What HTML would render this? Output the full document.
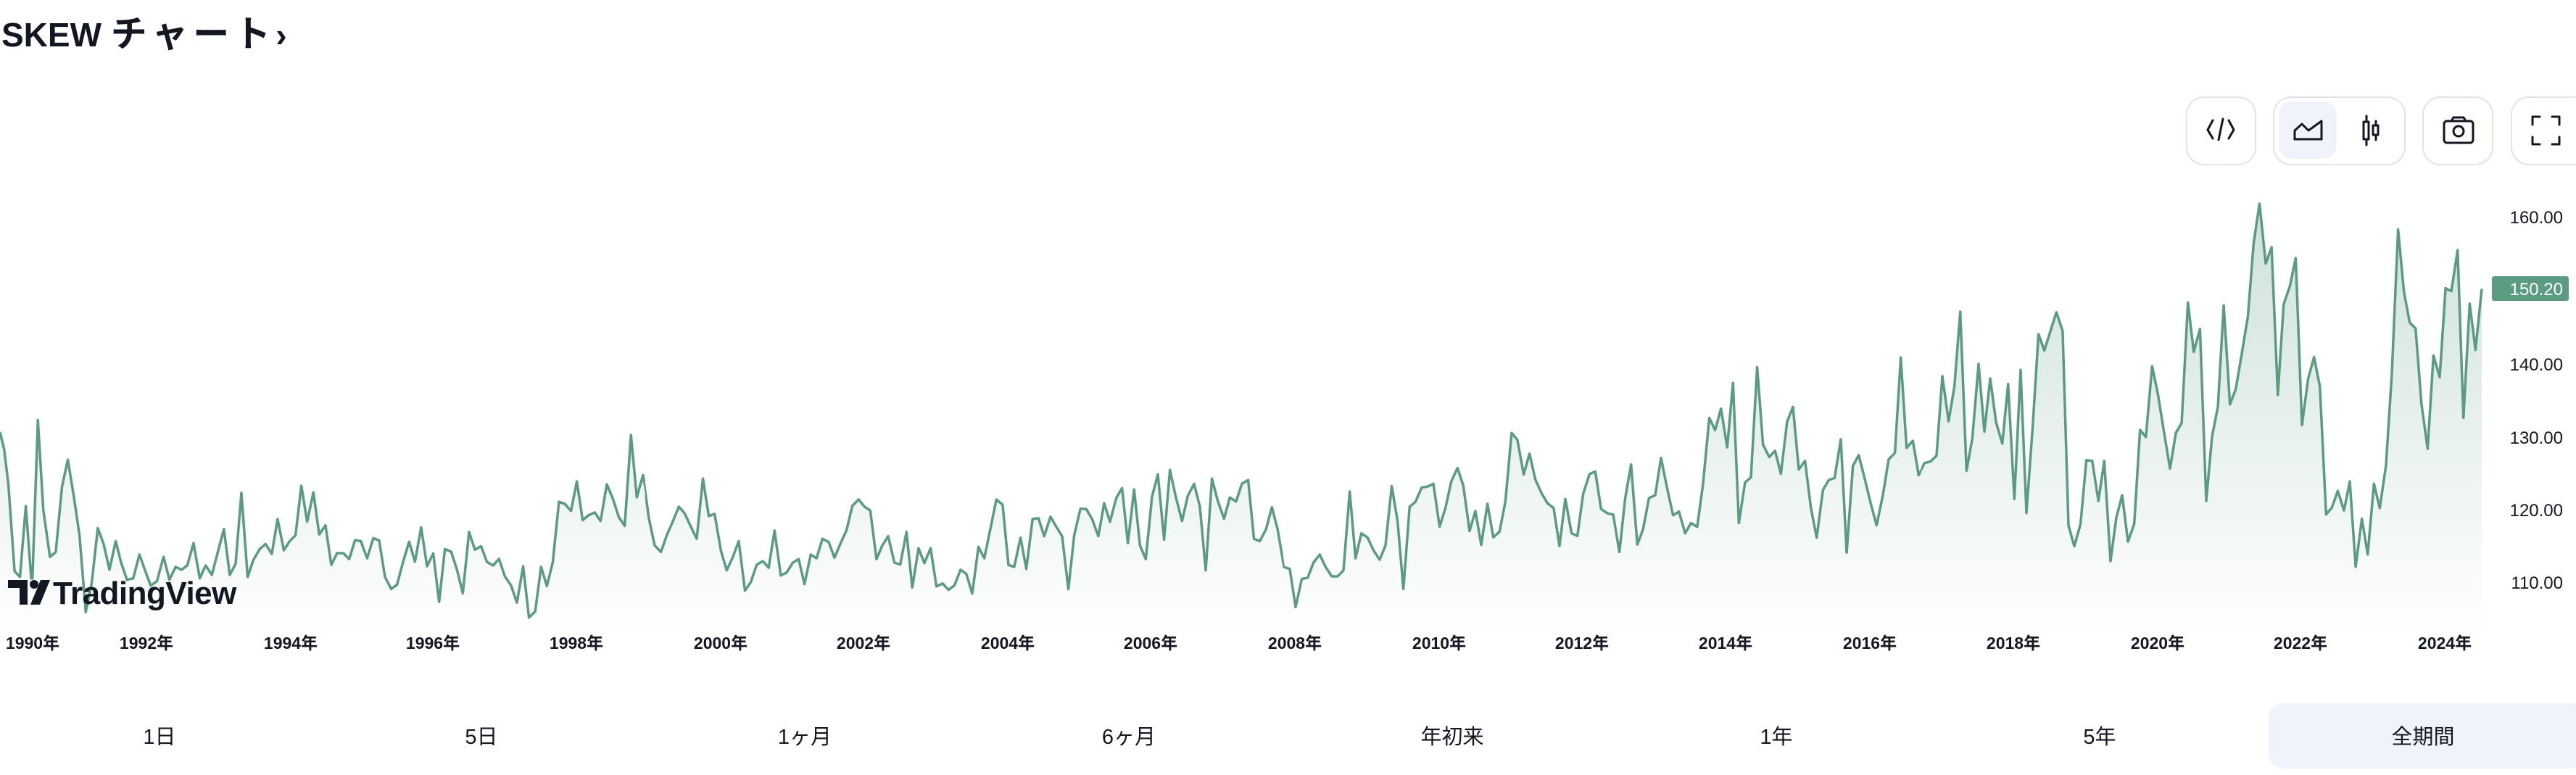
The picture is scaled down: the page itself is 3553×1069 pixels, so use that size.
<!DOCTYPE html>
<html><head><meta charset="utf-8"><style>
html,body{margin:0;padding:0;background:#fff;width:3553px;height:1069px;overflow:hidden}
svg{display:block}
text{font-family:"Liberation Sans","Noto Sans CJK JP",sans-serif;fill:#131722}
</style></head><body>
<svg width="3553" height="1069" viewBox="0 0 3553 1069" xmlns="http://www.w3.org/2000/svg">
<defs>
<linearGradient id="g" gradientUnits="userSpaceOnUse" x1="0" y1="50" x2="0" y2="1568">
<stop offset="0" stop-color="#5b9b82" stop-opacity="0.30"/>
<stop offset="1" stop-color="#5b9b82" stop-opacity="0.0"/>
</linearGradient>
<clipPath id="c1"><rect x="0" y="0" width="1550" height="1600"/></clipPath>
<clipPath id="c2"><rect x="17" y="0" width="1533" height="1600"/></clipPath>
<clipPath id="c3"><rect x="17" y="0" width="1533" height="1600"/></clipPath>
<clipPath id="c4"><rect x="17" y="0" width="1551" height="1600"/></clipPath>
</defs>

<text x="2" y="64" font-size="46" font-weight="700">SKEW <tspan font-size="50" letter-spacing="7">チャート</tspan>›</text>

<!-- toolbar -->
<g fill="none" stroke="#e0e3eb" stroke-width="2">
<rect x="3016" y="134" width="95" height="93" rx="24"/>
<rect x="3136" y="134" width="181" height="93" rx="24"/>
<rect x="3342" y="134" width="96" height="93" rx="24"/>
<rect x="3464" y="134" width="110" height="93" rx="24"/>
</g>
<rect x="3143" y="140" width="80" height="79" rx="18" fill="#f0f3fa"/>
<g fill="none" stroke="#131722" stroke-width="3" stroke-linecap="round" stroke-linejoin="round">
<path d="M3052 166 L3045 179 L3052 191 M3074 166 L3081 179 L3074 191 M3066 164 L3060 193"/>
<path d="M3165 192 L3165 180 L3175 171 L3184 180 L3202 167 L3202 192 Z"/>
<path d="M3264 160 L3264 200 M3277 167 L3277 193"/>
<rect x="3260" y="168" width="7" height="24" fill="#fff"/>
<rect x="3273" y="173" width="7" height="13" fill="#fff"/>
<rect x="3371" y="167" width="40" height="30" rx="4"/>
<path d="M3381 167 L3384 162 L3398 162 L3401 167"/>
<circle cx="3391" cy="181" r="7"/>
<path d="M3493 172 L3493 161 L3503 161 M3520 161 L3530 161 L3530 172 M3530 189 L3530 199 L3520 199 M3503 199 L3493 199 L3493 189"/>
</g>

<!-- series -->
<g transform="translate(0,260) scale(0.57405,0.39541)" clip-path="url(#c1)">
<polygon fill="url(#g)" points="0,1568 0,850 10,910 20,1030 35,1335 48,1355 62,1108 75,1360 78,1360 91,808 104,1120 120,1285 134,1268 149,1040 163,946 178,1080 191,1210 206,1478 220,1380 235,1185 249,1240 263,1330 278,1230 291,1305 305,1365 320,1360 335,1277 348,1330 362,1385 377,1370 393,1285 407,1365 422,1320 436,1330 450,1315 465,1237 480,1360 494,1315 509,1348 523,1270 538,1188 552,1348 566,1310 580,1062 595,1355 609,1295 624,1258 638,1240 653,1275 667,1153 682,1262 696,1230 710,1210 724,1037 738,1162 753,1060 767,1207 782,1175 796,1313 810,1272 825,1272 839,1293 853,1227 867,1230 882,1290 897,1220 911,1228 925,1355 940,1397 954,1382 968,1305 983,1232 997,1302 1012,1182 1026,1318 1041,1273 1055,1442 1069,1258 1084,1267 1098,1330 1112,1412 1127,1198 1141,1260 1156,1248 1170,1303 1185,1315 1199,1292 1213,1353 1228,1385 1242,1445 1257,1318 1271,1497 1286,1475 1300,1320 1314,1387 1328,1305 1343,1093 1357,1100 1372,1125 1386,1022 1400,1157 1414,1140 1429,1130 1443,1160 1458,1032 1472,1080 1487,1147 1501,1177 1516,860 1530,1077 1545,1000 1559,1110 1568,1200 1568,1568"/>
<polyline fill="none" stroke="#5b9b82" stroke-width="3.5" vector-effect="non-scaling-stroke" stroke-linejoin="round" points="0,850 10,910 20,1030 35,1335 48,1355 62,1108 75,1360 78,1360 91,808 104,1120 120,1285 134,1268 149,1040 163,946 178,1080 191,1210 206,1478 220,1380 235,1185 249,1240 263,1330 278,1230 291,1305 305,1365 320,1360 335,1277 348,1330 362,1385 377,1370 393,1285 407,1365 422,1320 436,1330 450,1315 465,1237 480,1360 494,1315 509,1348 523,1270 538,1188 552,1348 566,1310 580,1062 595,1355 609,1295 624,1258 638,1240 653,1275 667,1153 682,1262 696,1230 710,1210 724,1037 738,1162 753,1060 767,1207 782,1175 796,1313 810,1272 825,1272 839,1293 853,1227 867,1230 882,1290 897,1220 911,1228 925,1355 940,1397 954,1382 968,1305 983,1232 997,1302 1012,1182 1026,1318 1041,1273 1055,1442 1069,1258 1084,1267 1098,1330 1112,1412 1127,1198 1141,1260 1156,1248 1170,1303 1185,1315 1199,1292 1213,1353 1228,1385 1242,1445 1257,1318 1271,1497 1286,1475 1300,1320 1314,1387 1328,1305 1343,1093 1357,1100 1372,1125 1386,1022 1400,1157 1414,1140 1429,1130 1443,1160 1458,1032 1472,1080 1487,1147 1501,1177 1516,860 1530,1077 1545,1000 1559,1110 1568,1200"/>
</g>
<g transform="translate(880,260) scale(0.57405,0.39541)" clip-path="url(#c2)">
<polygon fill="url(#g)" points="0,1568 0,1075 12,1000 26,1150 40,1245 55,1268 69,1210 84,1160 98,1110 112,1133 127,1180 141,1222 156,1012 170,1143 184,1135 199,1262 213,1332 228,1285 242,1230 257,1403 271,1373 285,1313 300,1300 314,1323 328,1193 343,1350 357,1340 372,1305 386,1293 400,1380 415,1277 429,1290 443,1222 458,1233 472,1288 486,1240 501,1192 515,1107 530,1085 544,1110 558,1123 573,1293 587,1245 601,1213 616,1305 630,1312 645,1198 659,1392 674,1255 688,1307 703,1255 717,1388 732,1378 746,1400 760,1385 775,1330 789,1345 803,1413 818,1250 832,1290 847,1185 861,1085 876,1103 890,1313 904,1320 919,1218 933,1327 948,1153 962,1150 976,1213 991,1145 1005,1180 1019,1213 1034,1398 1048,1210 1063,1117 1077,1118 1091,1153 1106,1213 1120,1098 1134,1163 1149,1080 1163,1045 1177,1237 1192,1050 1206,1245 1220,1293 1235,1075 1249,997 1264,1225 1278,982 1292,1075 1307,1160 1321,1072 1336,1030 1350,1110 1364,1332 1379,1012 1393,1090 1408,1152 1422,1078 1437,1092 1451,1030 1466,1017 1480,1222 1494,1230 1509,1188 1523,1112 1537,1190 1552,1320 1566,1325 1566,1568"/>
<polyline fill="none" stroke="#5b9b82" stroke-width="3.5" vector-effect="non-scaling-stroke" stroke-linejoin="round" points="0,1075 12,1000 26,1150 40,1245 55,1268 69,1210 84,1160 98,1110 112,1133 127,1180 141,1222 156,1012 170,1143 184,1135 199,1262 213,1332 228,1285 242,1230 257,1403 271,1373 285,1313 300,1300 314,1323 328,1193 343,1350 357,1340 372,1305 386,1293 400,1380 415,1277 429,1290 443,1222 458,1233 472,1288 486,1240 501,1192 515,1107 530,1085 544,1110 558,1123 573,1293 587,1245 601,1213 616,1305 630,1312 645,1198 659,1392 674,1255 688,1307 703,1255 717,1388 732,1378 746,1400 760,1385 775,1330 789,1345 803,1413 818,1250 832,1290 847,1185 861,1085 876,1103 890,1313 904,1320 919,1218 933,1327 948,1153 962,1150 976,1213 991,1145 1005,1180 1019,1213 1034,1398 1048,1210 1063,1117 1077,1118 1091,1153 1106,1213 1120,1098 1134,1163 1149,1080 1163,1045 1177,1237 1192,1050 1206,1245 1220,1293 1235,1075 1249,997 1264,1225 1278,982 1292,1075 1307,1160 1321,1072 1336,1030 1350,1110 1364,1332 1379,1012 1393,1090 1408,1152 1422,1078 1437,1092 1451,1030 1466,1017 1480,1222 1494,1230 1509,1188 1523,1112 1537,1190 1552,1320 1566,1325"/>
</g>
<g transform="translate(1760,260) scale(0.57405,0.39541)" clip-path="url(#c3)">
<polygon fill="url(#g)" points="0,1568 0,1155 6,1195 18,1320 33,1327 47,1460 62,1362 76,1358 90,1305 105,1277 119,1320 134,1353 148,1353 162,1332 177,1057 191,1290 205,1203 220,1218 234,1262 249,1295 263,1245 278,1038 292,1160 306,1397 321,1110 335,1093 350,1043 364,1040 378,1030 393,1180 407,1115 421,1022 436,975 450,1037 465,1195 479,1125 493,1243 508,1100 522,1217 537,1197 551,1093 566,853 580,877 595,998 609,925 623,1015 638,1063 652,1098 667,1115 681,1247 695,1083 710,1203 724,1212 738,1065 753,997 767,987 781,1118 796,1133 810,1137 825,1268 839,1080 853,963 868,1242 882,1188 896,1080 911,1070 925,940 940,1048 954,1140 968,1127 983,1203 997,1167 1012,1180 1026,1030 1041,800 1055,843 1069,768 1084,903 1098,678 1112,1167 1127,1025 1141,1008 1156,623 1170,893 1185,937 1199,915 1213,995 1228,813 1242,762 1256,980 1271,950 1285,1113 1299,1218 1314,1052 1328,1017 1342,1010 1357,875 1371,1270 1386,968 1400,930 1414,1010 1429,1100 1443,1175 1458,1070 1472,945 1487,922 1501,590 1515,905 1530,880 1544,1000 1559,960 1568,955 1568,1568"/>
<polyline fill="none" stroke="#5b9b82" stroke-width="3.5" vector-effect="non-scaling-stroke" stroke-linejoin="round" points="0,1155 6,1195 18,1320 33,1327 47,1460 62,1362 76,1358 90,1305 105,1277 119,1320 134,1353 148,1353 162,1332 177,1057 191,1290 205,1203 220,1218 234,1262 249,1295 263,1245 278,1038 292,1160 306,1397 321,1110 335,1093 350,1043 364,1040 378,1030 393,1180 407,1115 421,1022 436,975 450,1037 465,1195 479,1125 493,1243 508,1100 522,1217 537,1197 551,1093 566,853 580,877 595,998 609,925 623,1015 638,1063 652,1098 667,1115 681,1247 695,1083 710,1203 724,1212 738,1065 753,997 767,987 781,1118 796,1133 810,1137 825,1268 839,1080 853,963 868,1242 882,1188 896,1080 911,1070 925,940 940,1048 954,1140 968,1127 983,1203 997,1167 1012,1180 1026,1030 1041,800 1055,843 1069,768 1084,903 1098,678 1112,1167 1127,1025 1141,1008 1156,623 1170,893 1185,937 1199,915 1213,995 1228,813 1242,762 1256,980 1271,950 1285,1113 1299,1218 1314,1052 1328,1017 1342,1010 1357,875 1371,1270 1386,968 1400,930 1414,1010 1429,1100 1443,1175 1458,1070 1472,945 1487,922 1501,590 1515,905 1530,880 1544,1000 1559,960 1568,955"/>
</g>
<g transform="translate(2640,260) scale(0.57405,0.39541)" clip-path="url(#c4)">
<polygon fill="url(#g)" points="0,1568 0,885 11,998 25,958 40,952 54,932 68,655 83,812 97,690 111,430 126,985 140,872 155,612 169,848 183,663 197,815 212,890 226,682 241,1083 256,633 270,1132 285,832 299,508 313,565 328,496 342,432 357,497 371,1175 385,1248 400,1170 414,948 428,950 443,1090 457,950 472,1300 486,1148 500,1070 514,1232 529,1170 543,842 557,867 572,620 586,718 600,845 615,977 629,853 643,818 658,398 672,570 687,490 702,1090 716,865 730,762 744,408 759,753 773,700 787,580 802,448 816,190 830,53 845,262 859,205 874,720 888,405 903,340 917,243 932,825 947,663 961,588 975,690 990,1137 1004,1113 1018,1055 1033,1123 1047,1022 1061,1320 1076,1152 1090,1277 1105,1030 1119,1115 1134,965 1148,645 1163,143 1177,360 1191,468 1205,488 1219,750 1234,908 1248,583 1263,658 1277,348 1291,358 1306,215 1320,800 1335,402 1349,563 1364,350 1364,1568"/>
<polyline fill="none" stroke="#5b9b82" stroke-width="3.5" vector-effect="non-scaling-stroke" stroke-linejoin="round" points="0,885 11,998 25,958 40,952 54,932 68,655 83,812 97,690 111,430 126,985 140,872 155,612 169,848 183,663 197,815 212,890 226,682 241,1083 256,633 270,1132 285,832 299,508 313,565 328,496 342,432 357,497 371,1175 385,1248 400,1170 414,948 428,950 443,1090 457,950 472,1300 486,1148 500,1070 514,1232 529,1170 543,842 557,867 572,620 586,718 600,845 615,977 629,853 643,818 658,398 672,570 687,490 702,1090 716,865 730,762 744,408 759,753 773,700 787,580 802,448 816,190 830,53 845,262 859,205 874,720 888,405 903,340 917,243 932,825 947,663 961,588 975,690 990,1137 1004,1113 1018,1055 1033,1123 1047,1022 1061,1320 1076,1152 1090,1277 1105,1030 1119,1115 1134,965 1148,645 1163,143 1177,360 1191,468 1205,488 1219,750 1234,908 1248,583 1263,658 1277,348 1291,358 1306,215 1320,800 1335,402 1349,563 1364,350"/>
</g>

<!-- logo -->
<g fill="#131722">
<path d="M11 800 L38 800 L38 834 L27 834 L27 811 L11 811 Z"/>
<circle cx="47" cy="806" r="6"/>
<path d="M56 800 L69 800 L55 834 L42 834 Z"/>
</g>
<text x="73" y="833" font-size="44" font-weight="700" letter-spacing="-0.5">TradingView</text>

<!-- y axis -->
<g font-size="24" text-anchor="end">
<text x="3535" y="308">160.00</text>
<text x="3535" y="511">140.00</text>
<text x="3535" y="612">130.00</text>
<text x="3535" y="712">120.00</text>
<text x="3535" y="812">110.00</text>
</g>
<rect x="3437" y="381" width="106" height="34" rx="3" fill="#5b9b82"/>
<text x="3535" y="407" font-size="24" text-anchor="end" style="fill:#fff">150.20</text>

<!-- x axis -->
<g font-size="23" font-weight="700" text-anchor="middle">
<text x="45" y="895">1990年</text>
<text x="202" y="895">1992年</text>
<text x="401" y="895">1994年</text>
<text x="597" y="895">1996年</text>
<text x="795" y="895">1998年</text>
<text x="994" y="895">2000年</text>
<text x="1191" y="895">2002年</text>
<text x="1390" y="895">2004年</text>
<text x="1587" y="895">2006年</text>
<text x="1786" y="895">2008年</text>
<text x="1985" y="895">2010年</text>
<text x="2182" y="895">2012年</text>
<text x="2380" y="895">2014年</text>
<text x="2579" y="895">2016年</text>
<text x="2777" y="895">2018年</text>
<text x="2976" y="895">2020年</text>
<text x="3173" y="895">2022年</text>
<text x="3372" y="895">2024年</text>
</g>

<!-- range tabs -->
<rect x="3129" y="970" width="440" height="90" rx="20" fill="#f0f3fa"/>
<g font-size="29" text-anchor="middle">
<text x="220" y="1026">1日</text>
<text x="664" y="1026">5日</text>
<text x="1110" y="1026">1ヶ月</text>
<text x="1557" y="1026">6ヶ月</text>
<text x="2003" y="1026">年初来</text>
<text x="2450" y="1026">1年</text>
<text x="2896" y="1026">5年</text>
<text x="3342" y="1026">全期間</text>
</g>
</svg>
</body></html>
